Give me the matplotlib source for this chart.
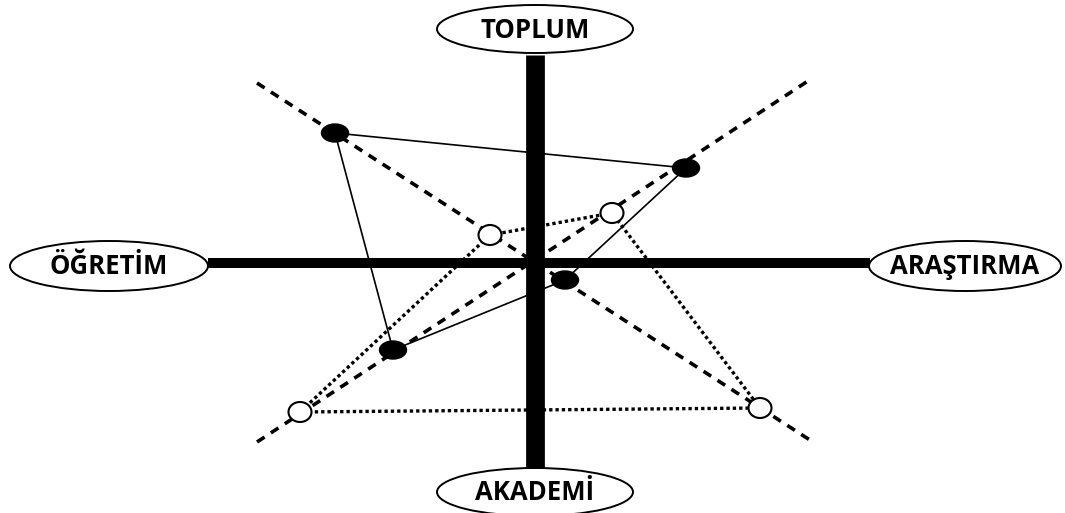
import matplotlib
matplotlib.use("Agg")
import matplotlib.pyplot as plt
from matplotlib.patches import Ellipse
import numpy as np

# Axis labels (top, left, right, bottom)
labels = ["TOPLUM", "ÖĞRETİM", "ARAŞTIRMA", "AKADEMİ"]

# Diagonal guide lines: endpoints (x, y), centre of the cross at (0, 0)
diag_a_x = [-278, 278]
diag_a_y = [180, -179]
diag_b_x = [-278, 276]
diag_b_y = [-179, 184]

# Solid profile (filled markers): TL, TR, BR, BL
solid_x = [-200, 151, 30, -142]
solid_y = [130, 95, -17, -87]

# Dotted profile (open markers): TL, TR, BR, BL
dotted_x = [-45, 77, 225, -235]
dotted_y = [28, 50, -145, -149]

fig = plt.figure(figsize=(10.65, 5.13), dpi=100)
ax = fig.add_axes([0, 0, 1, 1])
ax.set_xlim(-535, 530)
ax.set_ylim(-250, 263)
ax.set_aspect("equal")
ax.axis("off")

# dashed diagonals
for xs, ys in [(diag_a_x, diag_a_y), (diag_b_x, diag_b_y)]:
    ax.plot(xs, ys, color="black", lw=2.6, dashes=(2.5, 2.1), zorder=2)

# thick cross
ax.plot([0, 0], [208, -205], color="black", lw=13.5, solid_capstyle="butt", zorder=3)
ax.plot([-327, 335], [0, 0], color="black", lw=7.2, solid_capstyle="butt", zorder=3)

# dotted polygon
ax.plot(dotted_x + dotted_x[:1], dotted_y + dotted_y[:1], color="black",
        lw=2.4, linestyle=(0, (1, 0.9)), zorder=4)
# solid polygon
ax.plot(solid_x + solid_x[:1], solid_y + solid_y[:1], color="black",
        lw=1.2, zorder=4)

# markers
for x, y in zip(solid_x, solid_y):
    ax.add_patch(Ellipse((x, y), 27, 18, facecolor="black", edgecolor="black", zorder=6))
for x, y in zip(dotted_x, dotted_y):
    ax.add_patch(Ellipse((x, y), 23, 20, facecolor="white", edgecolor="black",
                         lw=1.5, zorder=6))

# ellipse labels
lab_pos = [(0, 234, 196, 48), (-426, -3, 198, 50), (430, -3, 192, 50), (0, -229, 196, 48)]
for text, (cx, cy, w, h) in zip(labels, lab_pos):
    ax.add_patch(Ellipse((cx, cy), w, h, facecolor="white", edgecolor="black",
                         lw=1.4, zorder=7))
    ax.text(cx, cy - 1, text, ha="center", va="center", fontsize=18.5,
            fontweight="bold", family="Open Sans", color="black", zorder=8)

fig.savefig("out.png", dpi=100)
